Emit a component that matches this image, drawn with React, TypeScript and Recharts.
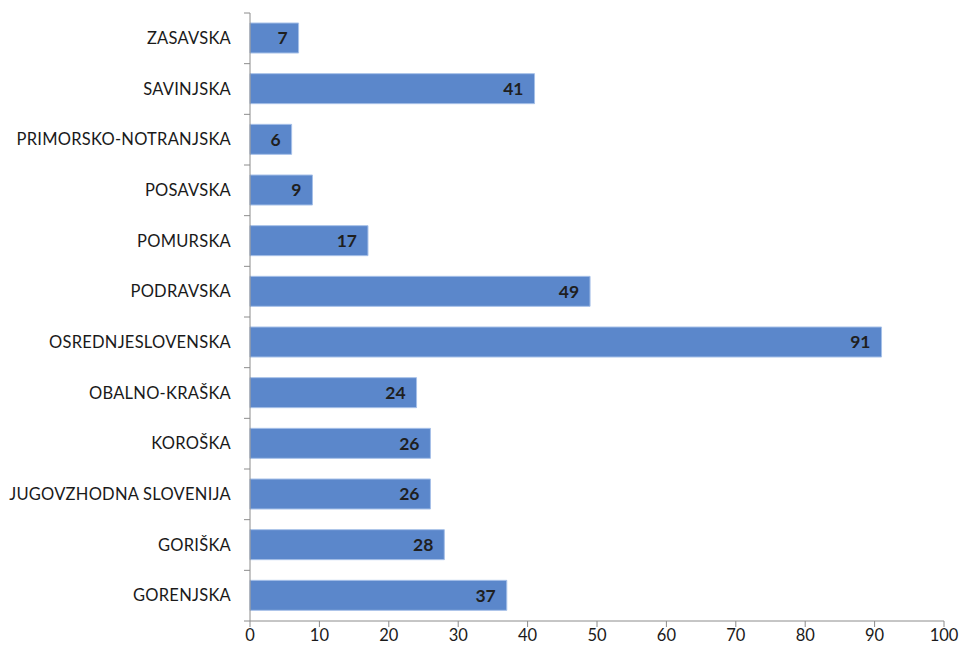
import { BarChart, Bar, XAxis, YAxis, LabelList } from "recharts";

const regions = [
  "ZASAVSKA",
  "SAVINJSKA",
  "PRIMORSKO-NOTRANJSKA",
  "POSAVSKA",
  "POMURSKA",
  "PODRAVSKA",
  "OSREDNJESLOVENSKA",
  "OBALNO-KRAŠKA",
  "KOROŠKA",
  "JUGOVZHODNA SLOVENIJA",
  "GORIŠKA",
  "GORENJSKA",
];
const counts = [7, 41, 6, 9, 17, 49, 91, 24, 26, 26, 28, 37];
const xTicks = [0, 10, 20, 30, 40, 50, 60, 70, 80, 90, 100];

const data = regions.map((region, i) => ({ region, count: counts[i] }));

const FONT = "Lato, 'Open Sans', sans-serif";
const AXIS = "#8c8c8c";

// category ticks sit on band boundaries (Excel style), so draw them by hand
function RegionTick(props: any) {
  const { x, y, payload, index } = props;
  const half = 608 / regions.length / 2;
  return (
    <g>
      <line x1={x + 4} x2={x + 10} y1={y - half} y2={y - half} stroke={AXIS} />
      {index === regions.length - 1 && (
        <line x1={x + 4} x2={x + 10} y1={y + half} y2={y + half} stroke={AXIS} />
      )}
      <text
        x={x - 9}
        y={y}
        dy={5.5}
        textAnchor="end"
        fill="#1a1a1a"
        fontSize={16.5}
        letterSpacing={0.25}
        fontFamily={FONT}
      >
        {payload.value}
      </text>
    </g>
  );
}

export default function App() {
  return (
    <div style={{ position: "absolute", left: 0, top: 0, background: "#fff" }}>
      <BarChart
        width={962}
        height={657}
        data={data}
        layout="vertical"
        margin={{ top: 13, right: 18, bottom: 0, left: 0 }}
        barSize={30}
      >
        <XAxis
          type="number"
          domain={[0, 100]}
          ticks={xTicks}
          interval={0}
          height={36}
          stroke={AXIS}
          tickSize={6}
          tick={{ fill: "#1a1a1a", fontSize: 16.5, fontFamily: FONT }}
        />
        <YAxis
          type="category"
          dataKey="region"
          width={250}
          stroke={AXIS}
          tickLine={false}
          tickSize={8}
          interval={0}
          tick={<RegionTick />}
        />
        <Bar
          dataKey="count"
          fill="#5b87cb"
          stroke="#a6c0e8"
          strokeWidth={1}
          isAnimationActive={false}
        >
          <LabelList
            dataKey="count"
            position="insideRight"
            offset={11}
            fill="#1f1f1f"
            fontSize={17.5}
            fontWeight="bold"
            fontFamily={FONT}
          />
        </Bar>
      </BarChart>
    </div>
  );
}
